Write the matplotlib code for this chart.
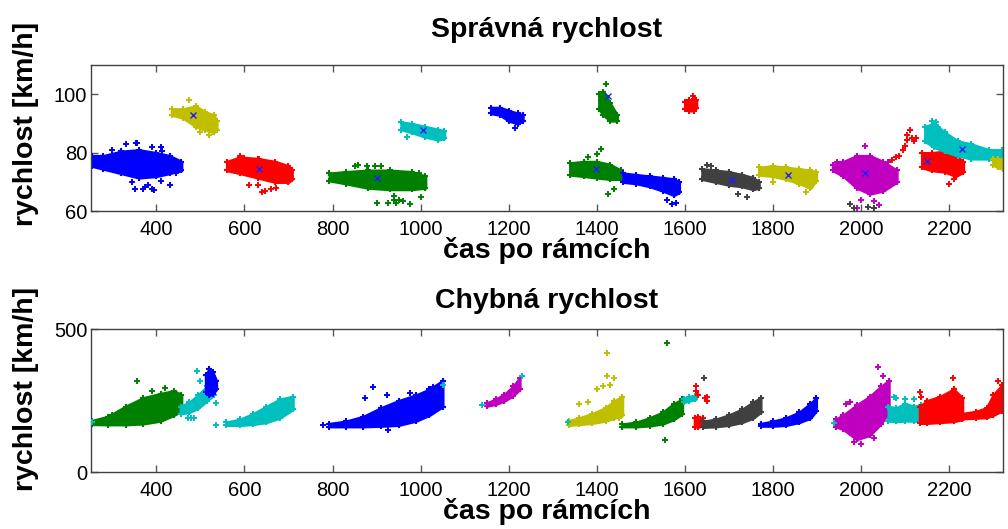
"""
Speed per frame for tracked vehicles: correct vs. wrong speed estimate.
Each track is drawn as its point cloud envelope (read from the figure)
plus the stray points around it.
"""

import matplotlib
matplotlib.use('Agg')
import matplotlib.pyplot as plt

# MATLAB default colours
COLORS = {
    'b': '#0000ff', 'g': '#008000', 'r': '#ff0000', 'c': '#00bfbf',
    'm': '#bf00bf', 'y': '#bfbf00', 'k': '#404040',
}

XLIM = (251, 2323)
XTICKS = [400, 600, 800, 1000, 1200, 1400, 1600, 1800, 2000, 2200]

# --- top panel: "Správná rychlost" -----------------------------------
top_colors = ['b', 'y', 'r', 'g', 'c', 'b', 'g', 'g', 'b', 'r', 'k', 'y', 'm', 'r', 'c', 'y']
top_frames = [
    [253, 280, 320, 360, 400, 430, 457],
    [435, 460, 490, 510, 530, 537],
    [560, 590, 630, 670, 700, 708],
    [793, 830, 880, 930, 980, 1011],
    [956, 980, 1010, 1040, 1054],
    [1160, 1180, 1200, 1220, 1232],
    [1405, 1415, 1430, 1446],
    [1339, 1370, 1400, 1430, 1455],
    [1460, 1490, 1520, 1550, 1575, 1587],
    [1600, 1610, 1620, 1626],
    [1639, 1670, 1700, 1730, 1755, 1768],
    [1768, 1800, 1830, 1860, 1885, 1898],
    [1936, 1960, 1990, 2020, 2050, 2081],
    [2138, 2160, 2190, 2215, 2232],
    [2145, 2165, 2190, 2220, 2250, 2290, 2320],
    [2300, 2310, 2322],
]
top_low = [
    [75.5, 74.5, 73, 71.5, 72, 73, 74],
    [93, 92, 89, 88, 87, 88],
    [74, 73, 71.5, 70, 70, 71],
    [70.5, 69.5, 68, 67.5, 67.5, 68],
    [88, 87, 85.5, 84.5, 85],
    [93.5, 93, 91, 90, 91],
    [95, 93, 91, 91],
    [72.5, 72, 71.5, 71, 71],
    [70, 69.5, 68.5, 67, 65.5, 66.5],
    [95, 94.5, 94.5, 95.5],
    [71, 70, 69, 68.5, 67.5, 68],
    [72.5, 72, 71, 69.5, 68, 70.5],
    [74, 72, 68, 66, 67, 70],
    [75, 74, 73.5, 72, 73.5],
    [84, 82, 80.5, 79, 78, 78, 77.5],
    [76, 75, 74.5],
]
top_high = [
    [79, 79, 80.5, 81, 80, 79, 77],
    [95, 95, 96, 94, 93, 91],
    [77, 78.5, 78, 77, 75.5, 74],
    [73, 73.5, 74, 74, 73.5, 72],
    [90.5, 90, 89, 88, 87.5],
    [95.5, 95.5, 94.5, 93.5, 93],
    [100, 101, 97, 93],
    [76.5, 77, 77, 76, 74],
    [73, 72.5, 72, 71.5, 71, 70],
    [97.5, 98, 98.5, 98],
    [74.5, 74, 73.5, 72.5, 71.5, 70],
    [75, 75.5, 75, 74.5, 74, 73.5],
    [76, 77, 79, 79, 77, 74],
    [80, 80, 80.5, 79, 77],
    [89, 90, 87, 84, 83, 81, 81],
    [78, 78, 77.5],
]
top_out_x = [330, 355, 370, 390, 380, 430, 410, 300, 353, 389, 413, 431, 374, 395,
             352, 345, 410, 265, 445,
             475, 500, 520, 528, 445,
             640, 660, 610, 590, 567, 631, 646, 671, 600, 632,
             900, 960, 975, 940, 1000, 850, 910, 927, 943, 950, 939, 858, 878,
             896, 997,
             970, 1215, 1420, 1410,
             1410, 1400, 1380, 1425, 1440,
             1570, 1580, 1560, 1618,
             1650, 1660, 1720, 1740, 1800, 1875,
             2010, 2000, 2030, 2040, 1990, 2060, 1945,
             1975, 1985, 2015, 2030,
             2070, 2080, 2085, 2095, 2100, 2105, 2110, 2115, 2120, 2125, 2105, 2200, 2210,
             2160, 2170, 2175, 2150]
top_out_y = [83, 83.5, 67.5, 67.5, 69, 69, 82, 81, 83.5, 81.9, 80.5, 69, 68.4, 67.3,
             67.5, 70, 70.5, 76, 73,
             98, 87, 86, 87, 94.5,
             66.5, 67.5, 69, 79, 75.5, 68.9, 67, 68, 78.4, 77.8,
             63, 63.5, 62.5, 64, 65, 75.5, 75.5, 63, 62.8, 64, 65.4, 75.9, 75.5,
             75.4, 73,
             85.5, 88.5, 103.5, 98,
             81.5, 79.5, 78.5, 66, 67.5,
             62.5, 63, 64, 99.5,
             76, 75.5, 66, 65, 70, 66.5,
             82.5, 64, 63.5, 62, 61, 77, 77,
             62.5, 61, 61.5, 61,
             77.5, 78.5, 79, 81, 82.5, 86, 88, 85, 84, 85, 84.5, 69.5, 71,
             91, 90.5, 89, 88]
top_out_c = (['b'] * 19 + ['y'] * 5 + ['r'] * 10 + ['g'] * 15 + ['c', 'b', 'g', 'g']
             + ['g'] * 5 + ['b'] * 3 + ['r'] + ['k'] * 4 + ['y'] * 2 + ['m'] * 7
             + ['k'] * 4 + ['r'] * 13 + ['c'] * 4)
top_cent_x = [484, 632, 900, 1005, 1398, 1426, 1706, 1834, 2008, 2150, 2229]
top_cent_y = [93, 74.4, 71.3, 87.8, 74.4, 99.5, 70.7, 72.4, 73, 77.3, 81.2]

# --- bottom panel: "Chybná rychlost" ---------------------------------
bot_colors = ['g', 'c', 'b', 'c', 'b', 'm', 'y', 'g', 'c', 'r', 'k', 'b', 'm', 'c', 'r', 'r']
bot_frames = [
    [253, 290, 330, 370, 410, 440, 457],
    [455, 475, 495, 515, 530],
    [512, 520, 528, 536],
    [559, 590, 620, 650, 680, 710],
    [793, 830, 870, 910, 950, 990, 1020, 1050],
    [1150, 1170, 1190, 1210, 1225],
    [1337, 1360, 1390, 1420, 1440, 1458],
    [1458, 1490, 1520, 1550, 1575, 1594],
    [1598, 1610, 1624],
    [1622, 1630, 1640],
    [1642, 1670, 1700, 1730, 1755, 1772],
    [1772, 1800, 1830, 1860, 1885, 1898],
    [1942, 1960, 1990, 2020, 2045, 2063],
    [2062, 2080, 2100, 2120, 2135],
    [2133, 2150, 2180, 2210, 2230],
    [2230, 2260, 2285, 2300, 2320],
]
bot_low = [
    [168, 167, 167, 170, 180, 200, 215],
    [205, 210, 225, 250, 270],
    [280, 270, 275, 290],
    [165, 165, 168, 175, 190, 220],
    [160, 160, 160, 162, 165, 180, 200, 230],
    [232, 238, 250, 268, 290],
    [165, 168, 172, 180, 190, 200],
    [160, 160, 163, 170, 185, 205],
    [245, 250, 255],
    [160, 158, 165],
    [158, 160, 165, 175, 190, 210],
    [162, 162, 165, 175, 190, 215],
    [160, 150, 115, 130, 170, 210],
    [180, 178, 180, 180, 178],
    [172, 172, 175, 178, 185],
    [188, 190, 192, 200, 215],
]
bot_high = [
    [180, 195, 230, 260, 275, 285, 270],
    [230, 245, 270, 300, 310],
    [340, 360, 350, 320],
    [175, 185, 205, 230, 255, 265],
    [170, 178, 195, 225, 250, 270, 290, 320],
    [242, 255, 272, 300, 330],
    [180, 190, 205, 225, 250, 265],
    [168, 175, 190, 210, 240, 255],
    [258, 265, 268],
    [190, 195, 190],
    [178, 185, 200, 220, 245, 260],
    [170, 178, 190, 210, 240, 260],
    [185, 200, 235, 265, 300, 320],
    [230, 225, 240, 230, 235],
    [230, 250, 265, 290, 260],
    [205, 212, 225, 270, 305],
]
bot_out_x = [253, 355, 300, 390, 420,
             493, 478, 472, 485, 536, 536, 500,
             778, 891, 874, 925, 975, 923, 1027,
             1050, 1140, 1230, 1335,
             1423, 1423, 1440, 1415, 1430, 1380, 1360, 1400, 1450,
             1560, 1555,
             1625, 1625, 1630, 1645, 1650, 1650,
             1644, 1938,
             2038, 2050, 1975, 1965, 1985, 2000, 2030,
             2080, 2100, 2120, 2075,
             2208, 2135, 2133, 2310]
bot_out_y = [175, 320, 200, 285, 295,
             355, 190, 190, 190, 165, 243, 320,
             165, 297, 259, 148, 276, 270, 299,
             305, 235, 338, 175,
             416, 335, 330, 300, 305, 245, 240, 290, 190,
             453, 113,
             300, 285, 270, 260, 250, 265,
             329, 174,
             367, 335, 245, 240, 105, 100, 120,
             260, 258, 255, 265,
             331, 265, 280, 320]
bot_out_c = (['c'] + ['g'] * 4 + ['c'] * 7 + ['b'] * 7 + ['c'] * 4 + ['y'] * 9
             + ['g'] * 2 + ['r'] * 6 + ['k', 'c'] + ['m'] * 7 + ['c'] * 4 + ['r'] * 4)


def style_axes(ax, ylim, yticks):
    ax.set_xlim(*XLIM)
    ax.set_ylim(*ylim)
    ax.set_xticks(XTICKS)
    ax.set_yticks(yticks)
    ax.tick_params(direction='in', top=True, right=True, length=5,
                   width=1, color='0.35', labelsize=14.5)
    ax.tick_params(axis='x', pad=6)
    ax.tick_params(axis='y', pad=2.5)
    for spine in ax.spines.values():
        spine.set_color('0.25')
        spine.set_linewidth(1)


def draw_panel(ax, colors, frames, low, high, out_x, out_y, out_c):
    for c, x, lo, hi in zip(colors, frames, low, high):
        col = COLORS[c]
        ax.fill_between(x, lo, hi, facecolor=col, edgecolor=col,
                        linewidth=2.0, zorder=2)
        # envelope points themselves, gives the cloud a ragged edge
        ax.plot(x, lo, '+', color=col, ms=5, mew=1.5, zorder=2)
        ax.plot(x, hi, '+', color=col, ms=5, mew=1.5, zorder=2)
    for x, y, c in zip(out_x, out_y, out_c):
        ax.plot(x, y, '+', color=COLORS[c], ms=4, mew=1.4, zorder=3)


fig = plt.figure(figsize=(10.08, 5.29), dpi=100)
plt.rcParams['font.family'] = ['Liberation Sans', 'DejaVu Sans']

ax1 = fig.add_axes([0.090, 0.6006, 0.9054, 0.276])
ax2 = fig.add_axes([0.090, 0.1072, 0.9054, 0.2703])

draw_panel(ax1, top_colors, top_frames, top_low, top_high,
           top_out_x, top_out_y, top_out_c)
ax1.plot(top_cent_x, top_cent_y, 'x', color='#2020ff', ms=4, mew=1, zorder=4)
style_axes(ax1, (60, 110), [60, 80, 100])

draw_panel(ax2, bot_colors, bot_frames, bot_low, bot_high,
           bot_out_x, bot_out_y, bot_out_c)
style_axes(ax2, (0, 500), [0, 500])

label_font = dict(fontsize=20.5, fontweight='bold')
ax1.set_title('Správná rychlost', pad=20.5, **label_font)
ax2.set_title('Chybná rychlost', pad=15, **label_font)
for ax, ly, xy in [(ax1, 0.60, -0.176), (ax2, 0.58, -0.18)]:
    ax.set_ylabel('rychlost [km/h]', **label_font)
    ax.yaxis.set_label_coords(-0.057, ly)
    ax.set_xlabel('čas po rámcích', **label_font)
    ax.xaxis.set_label_coords(0.5, xy)

fig.savefig('out.png', dpi=100)
